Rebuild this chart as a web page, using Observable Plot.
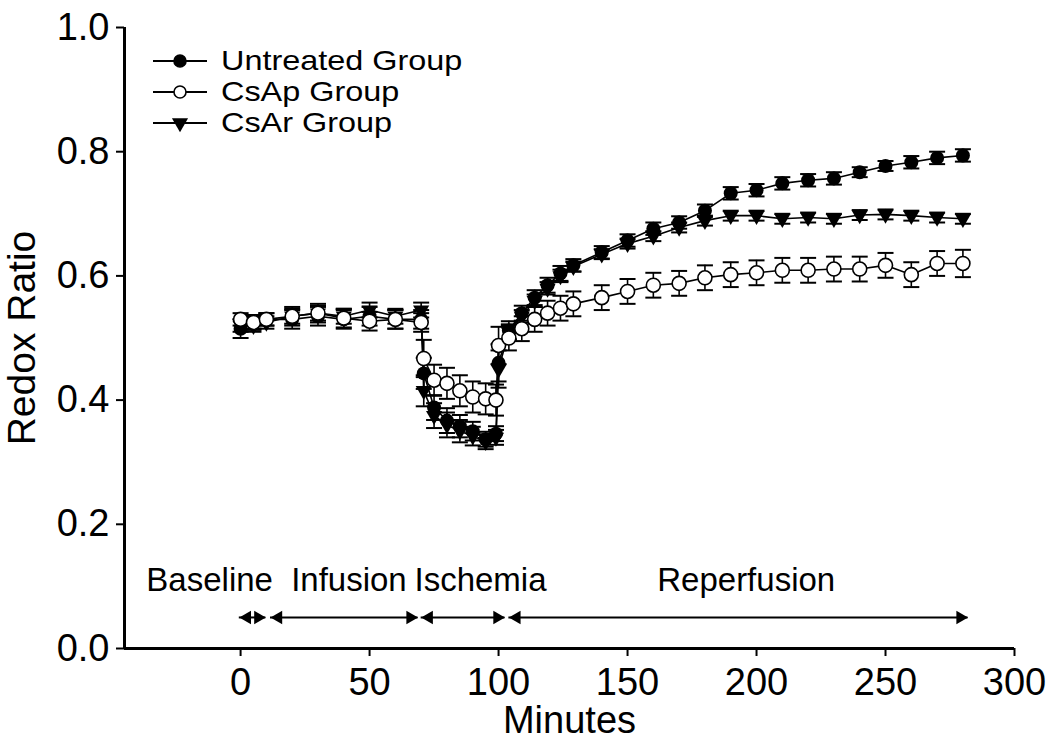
<!DOCTYPE html>
<html><head><meta charset="utf-8">
<script src="https://cdn.jsdelivr.net/npm/d3@7"></script>
<script src="https://cdn.jsdelivr.net/npm/@observablehq/plot@0.6"></script>
<style>
body{margin:0;background:#fff;}
#wrap{position:relative;width:1050px;height:750px;font-family:"Liberation Sans",Arial,Helvetica,sans-serif;}
#legend{position:absolute;left:0;top:0;pointer-events:none;}
</style></head><body><div id="wrap"></div>
<script>
// ---- data ----
const minutes = [0,5,10,20,30,40,50,60,70,71,75,80,85,90,95,99,100,104,109,114,119,124,129,140,150,160,170,180,190,200,210,220,230,240,250,260,270,280];

const untreated    = [0.515,0.525,0.530,0.530,0.535,0.530,0.535,0.530,0.530,0.443,0.388,0.367,0.358,0.350,0.337,0.346,0.460,0.512,0.540,0.565,0.585,0.604,0.617,0.638,0.657,0.676,0.686,0.705,0.733,0.738,0.749,0.754,0.757,0.767,0.777,0.783,0.790,0.794];
const untreatedErr = [0.015,0.012,0.010,0.015,0.015,0.015,0.015,0.015,0.015,0.025,0.020,0.020,0.018,0.015,0.012,0.012,0.030,0.015,0.012,0.012,0.012,0.012,0.010,0.010,0.010,0.010,0.010,0.010,0.010,0.010,0.010,0.010,0.010,0.008,0.008,0.010,0.010,0.010];

const csap         = [0.530,0.525,0.530,0.535,0.540,0.532,0.527,0.530,0.525,0.467,0.432,0.427,0.415,0.405,0.402,0.400,0.488,0.500,0.515,0.530,0.540,0.548,0.555,0.565,0.575,0.585,0.588,0.597,0.602,0.605,0.609,0.609,0.611,0.611,0.617,0.602,0.620,0.620];
const csapErr      = [0.010,0.010,0.010,0.015,0.015,0.015,0.015,0.015,0.015,0.030,0.025,0.025,0.025,0.025,0.025,0.025,0.030,0.020,0.020,0.020,0.020,0.020,0.020,0.020,0.020,0.020,0.020,0.020,0.020,0.020,0.020,0.020,0.020,0.020,0.020,0.020,0.020,0.022];

const csar         = [0.520,0.520,0.525,0.535,0.540,0.535,0.545,0.535,0.545,0.415,0.375,0.360,0.350,0.342,0.333,0.340,0.450,0.510,0.535,0.560,0.580,0.600,0.615,0.635,0.652,0.664,0.678,0.689,0.697,0.697,0.692,0.694,0.692,0.698,0.699,0.697,0.694,0.692];
const csarErr      = [0.010,0.010,0.010,0.012,0.012,0.012,0.012,0.012,0.012,0.025,0.020,0.020,0.018,0.015,0.012,0.012,0.030,0.012,0.010,0.010,0.010,0.010,0.008,0.008,0.008,0.008,0.008,0.008,0.008,0.008,0.008,0.008,0.008,0.008,0.008,0.008,0.008,0.008];

const seriesNames = ["Untreated Group","CsAp Group","CsAr Group"];

const phaseNames  = ["Baseline","Infusion","Ischemia","Reperfusion"];
const phaseStart  = [-0.5, 11.6, 70, 104];
const phaseEnd    = [9.8, 68.8, 102.5, 282];
const phaseLabelX = [-12, 42, 93, 196];
const phaseArrowY = 0.05;
const phaseLabelY = 0.11;

const xTicks = [0,50,100,150,200,250,300];
const yTicks = [0,0.2,0.4,0.6,0.8,1.0];
const xDomain = [-45, 300];
const yDomain = [0, 1];

// ---- build tables ----
const mk = (name, vals, errs) => minutes.map((m,i)=>({series:name, minute:m, value:vals[i], err:errs[i]}));
const dUnt = mk(seriesNames[0], untreated, untreatedErr);
const dAp  = mk(seriesNames[1], csap, csapErr);
const dAr  = mk(seriesNames[2], csar, csarErr);
const phases = phaseNames.map((n,i)=>({name:n, start:phaseStart[i], end:phaseEnd[i], lx:phaseLabelX[i]}));

const capSymbol = {draw(ctx, size){ const w = Math.sqrt(size/Math.PI); ctx.moveTo(-w,0); ctx.lineTo(w,0); }};

function seriesMarks(data, dotOpts){
  return [
    Plot.line(data, {x:"minute", y:"value", stroke:"black", strokeWidth:1.6}),
    Plot.ruleX(data, {x:"minute", y1:d=>d.value-d.err, y2:d=>d.value+d.err, stroke:"black", strokeWidth:1.6}),
    Plot.dot(data, {x:"minute", y:d=>d.value+d.err, symbol:capSymbol, r:8, stroke:"black", strokeWidth:2, fill:"none"}),
    Plot.dot(data, {x:"minute", y:d=>d.value-d.err, symbol:capSymbol, r:8, stroke:"black", strokeWidth:2, fill:"none"}),
    Plot.dot(data, {x:"minute", y:"value", ...dotOpts})
  ];
}

const font = '"Liberation Sans",Arial,Helvetica,sans-serif';

const chart = Plot.plot({
  width:1050, height:750,
  marginLeft:124, marginRight:36, marginTop:27, marginBottom:102,
  style:{fontFamily:font, fontSize:"38px", background:"white", color:"black", overflow:"visible"},
  x:{domain:xDomain},
  y:{domain:yDomain},
  marks:[
    Plot.axisX({ticks:xTicks, tickSize:8, tickPadding:12, strokeWidth:2, label:null, fontSize:38}),
    Plot.axisY({ticks:yTicks, tickSize:8, tickPadding:7, strokeWidth:2, label:null, tickFormat:d3.format(".1f"), fontSize:38}),
    Plot.ruleY([0], {stroke:"black", strokeWidth:3}),
    Plot.ruleX([xDomain[0]], {stroke:"black", strokeWidth:3}),
    Plot.text(["Minutes"], {text:d=>d, frameAnchor:"bottom", lineAnchor:"top", dy:58, fontSize:38}),
    Plot.text(["Redox Ratio"], {text:d=>d, frameAnchor:"left", textAnchor:"middle", rotate:-90, dx:-102, lineAnchor:"middle", fontSize:39}),
    // phase annotations
    Plot.ruleY(phases, {x1:"start", x2:"end", y:()=>phaseArrowY, stroke:"black", strokeWidth:2}),
    Plot.dot(phases, {x:"start", y:()=>phaseArrowY, symbol:"triangle", rotate:-90, r:5, dx:7.8, fill:"black"}),
    Plot.dot(phases, {x:"end", y:()=>phaseArrowY, symbol:"triangle", rotate:90, r:5, dx:-7.8, fill:"black"}),
    Plot.text(phases, {x:"lx", y:()=>phaseLabelY, text:"name", fontSize:33, lineAnchor:"middle"}),
    // series
    ...seriesMarks(dUnt, {symbol:"circle", r:7, fill:"black"}),
    ...seriesMarks(dAr,  {symbol:"triangle", rotate:180, r:6, fill:"black"}),
    ...seriesMarks(dAp,  {symbol:"circle", r:7, fill:"white", stroke:"black", strokeWidth:1.6})
  ]
});
const wrap = document.getElementById("wrap");
wrap.appendChild(chart);

// ---- legend (overlay inside the plot area, top-left) ----
const legendSymbols = ["filled", "open", "tri"];
const lg = d3.select(wrap).append("svg").attr("id","legend").attr("width",1050).attr("height",750)
  .style("font-family", font);
const rowsY = [61, 92, 123];
seriesNames.forEach((name,i)=>{
  const g = lg.append("g").attr("transform", `translate(0,${rowsY[i]})`);
  g.append("line").attr("x1",153).attr("x2",207).attr("y1",0).attr("y2",0).attr("stroke","black").attr("stroke-width",2);
  const s = legendSymbols[i];
  if (s === "tri") {
    g.append("path").attr("d", d3.symbol(d3.symbolTriangle, Math.PI*36)()).attr("transform","translate(180,0) rotate(180)").attr("fill","black");
  } else {
    g.append("circle").attr("cx",180).attr("cy",0).attr("r",6)
      .attr("fill", s==="filled" ? "black" : "white").attr("stroke","black").attr("stroke-width",1.6);
  }
  g.append("text").attr("transform","translate(221,0) scale(1.2,1)").attr("dy","0.35em")
    .attr("font-size",27).attr("fill","black").text(name);
});
</script></body></html>
